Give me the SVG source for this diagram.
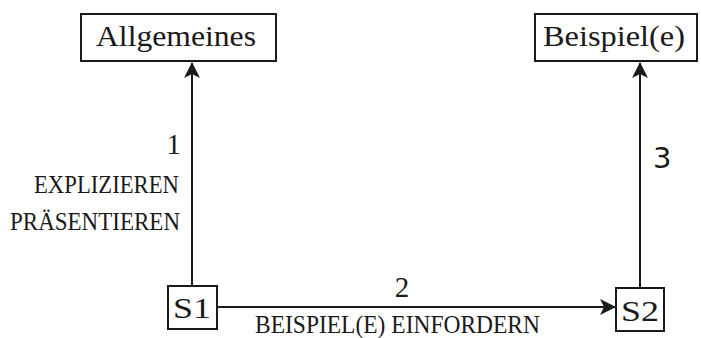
<svg xmlns="http://www.w3.org/2000/svg" width="701" height="338" viewBox="0 0 701 338">
  <style>
    .box { fill: #fff; stroke: #1a1a1a; stroke-width: 2; }
    .edge { fill: none; stroke: #1a1a1a; stroke-width: 2; }
    text { font-family: "Liberation Serif", "DejaVu Serif", serif; fill: #1a1a1a; }
    .node { font-size: 30px; }
    .lbl { font-size: 25px; }
    .num { font-size: 29px; }
  </style>
  <defs>
    <marker id="arrow" viewBox="0 0 16 16" refX="15" refY="8" markerWidth="16" markerHeight="16" markerUnits="userSpaceOnUse" orient="auto">
      <path d="M0,0 L16,8 L0,16 L4,8 Z" fill="#1a1a1a"/>
    </marker>
  </defs>

  <g id="connectors">
    <line class="edge" x1="192" y1="285" x2="192" y2="63" marker-end="url(#arrow)"/>
    <line class="edge" x1="217" y1="307" x2="615" y2="307" marker-end="url(#arrow)"/>
    <line class="edge" x1="640" y1="288" x2="640" y2="63" marker-end="url(#arrow)"/>
    <text class="num" x="181" y="154" text-anchor="end">1</text>
    <text class="lbl" x="179" y="193" text-anchor="end" textLength="145" lengthAdjust="spacingAndGlyphs">EXPLIZIEREN</text>
    <text class="lbl" x="180" y="230" text-anchor="end" textLength="170" lengthAdjust="spacingAndGlyphs">PRÄSENTIEREN</text>
    <text class="num" x="402" y="297" text-anchor="middle">2</text>
    <text class="lbl" x="255" y="333" textLength="285" lengthAdjust="spacingAndGlyphs">BEISPIEL(E) EINFORDERN</text>
    <text class="num" x="653" y="168" style="font-family:'DejaVu Sans','Liberation Sans',sans-serif">3</text>
  </g>

  <g id="allgemeines">
    <rect class="box" x="81" y="14" width="195" height="47"/>
    <text class="node" x="176" y="46" text-anchor="middle" textLength="160" lengthAdjust="spacingAndGlyphs">Allgemeines</text>
  </g>

  <g id="beispiele">
    <rect class="box" x="535" y="14" width="162" height="47"/>
    <text class="node" x="614" y="46" text-anchor="middle" textLength="142" lengthAdjust="spacingAndGlyphs">Beispiel(e)</text>
  </g>

  <g id="s1">
    <rect class="box" x="168" y="286" width="49" height="43"/>
    <text class="node" x="192" y="318" text-anchor="middle" textLength="38" lengthAdjust="spacingAndGlyphs">S1</text>
  </g>

  <g id="s2">
    <rect class="box" x="616" y="288" width="48" height="43"/>
    <text class="node" x="640" y="321" text-anchor="middle" textLength="38" lengthAdjust="spacingAndGlyphs">S2</text>
  </g>
</svg>
